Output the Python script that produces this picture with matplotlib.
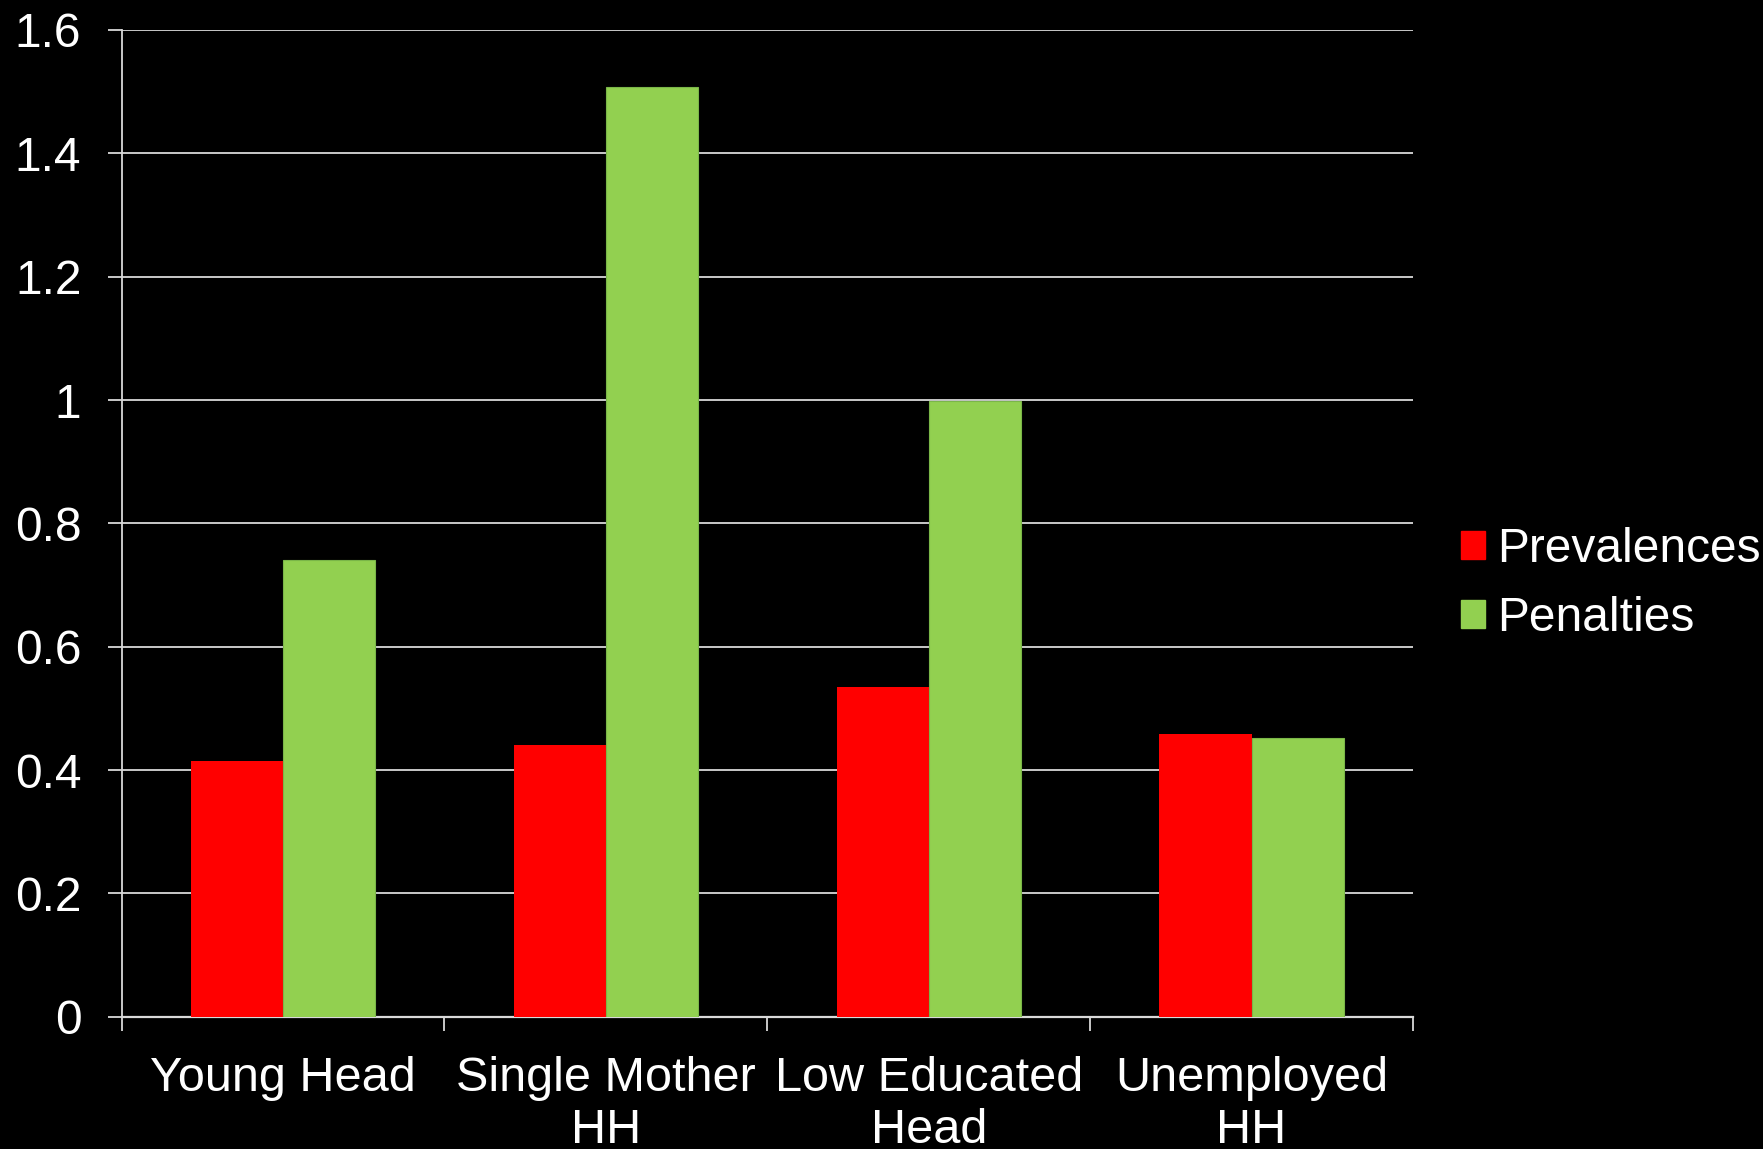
import numpy as np
import matplotlib.pyplot as plt
from matplotlib.patches import Patch

plt.rcParams['font.family'] = ['Liberation Sans', 'DejaVu Sans']
plt.rcParams['font.size'] = 35

categories = ['Young Head', 'Single Mother\nHH', 'Low Educated\nHead', 'Unemployed\nHH']
prevalences = [0.415, 0.44, 0.534, 0.459]
penalties = [0.74, 1.508, 0.998, 0.452]
yticks = [0, 0.2, 0.4, 0.6, 0.8, 1.0, 1.2, 1.4, 1.6]
ytick_labels = ['0', '0.2', '0.4', '0.6', '0.8', '1', '1.2', '1.4', '1.6']

red = '#FF0000'
green = '#92D050'
grid = '#D9D9D9'

fig = plt.figure(figsize=(17.63, 11.49), dpi=100, facecolor='black')
ax = fig.add_axes([0.069, 0.1151, 0.7325, 0.8588], facecolor='black')

# two bars per group, gap of 1.5 bar widths between groups
x = np.arange(len(categories))
w = 1 / 3.5
ax.bar(x - w / 2, prevalences, w, color=red, zorder=3)
ax.bar(x + w / 2, penalties, w, color=green, edgecolor='#7AB648', linewidth=0.8, zorder=3)

ax.set_xlim(-0.5, len(categories) - 0.5)
ax.set_ylim(0, 1.6)
ax.set_yticks(yticks)
ax.set_yticklabels(ytick_labels, fontsize=34.5)
ax.yaxis.grid(True, color=grid, linewidth=1.3, zorder=0)

# category labels on major ticks, divider ticks on minor ones
ax.set_xticks(x)
ax.set_xticklabels(categories, linespacing=1.2)
ax.set_xticks(np.arange(len(categories) + 1) - 0.5, minor=True)
ax.tick_params(axis='x', which='major', length=0, pad=28, colors='white')
ax.tick_params(axis='x', which='minor', length=10, width=1.3, color=grid, direction='out')
ax.tick_params(axis='y', length=10, width=1.3, color=grid, pad=19, labelcolor='white')

for side in ['top', 'right']:
    ax.spines[side].set_visible(False)
ax.spines['left'].set_color(grid)
ax.spines['left'].set_linewidth(1.3)
ax.spines['bottom'].set_color(grid)
ax.spines['bottom'].set_linewidth(1.6)

handles = [Patch(color=red, label='Prevalences'), Patch(color=green, label='Penalties')]
fig.legend(handles=handles, loc='center left', bbox_to_anchor=(1461 / 1763, 1 - 584 / 1149),
           frameon=False, labelcolor='white', fontsize=34.5, handlelength=0.51, handleheight=0.51,
           handletextpad=0.25, labelspacing=0.51, borderpad=0, borderaxespad=0)

fig.savefig('out.png', dpi=100, facecolor='black')
